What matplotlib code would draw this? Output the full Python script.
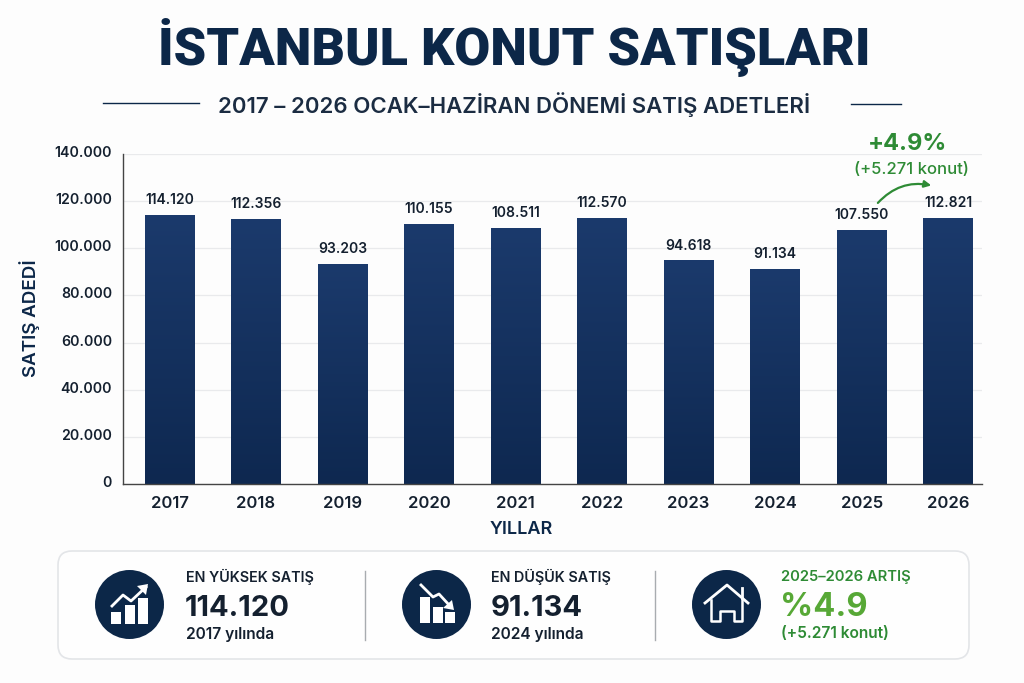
import numpy as np
import matplotlib
matplotlib.use('Agg')
import matplotlib.pyplot as plt
from matplotlib.patches import Circle, FancyBboxPatch, FancyArrowPatch, Polygon, Rectangle
from matplotlib.colors import LinearSegmentedColormap
from matplotlib.ticker import FuncFormatter
from matplotlib.transforms import ScaledTranslation

plt.rcParams['font.family'] = ['Inter', 'Liberation Sans', 'DejaVu Sans']

years = [2017, 2018, 2019, 2020, 2021, 2022, 2023, 2024, 2025, 2026]
sales = [114120, 112356, 93203, 110155, 108511, 112570, 94618, 91134, 107550, 112821]
y_ticks = [0, 20000, 40000, 60000, 80000, 100000, 120000, 140000]

NAVY = '#0c2748'
TEXT = '#14202f'
GREEN = '#2e8b35'
LIGHT_GREEN = '#57a836'
TITLE_FONT = ['Roboto', 'DejaVu Sans']


def dotted(v):
    return f'{int(v):,}'.replace(',', '.')


fig = plt.figure(figsize=(10.24, 6.83), dpi=100, facecolor='#fdfdfd')

# overlay in pixel coordinates, for title and bottom panel
bg = fig.add_axes([0, 0, 1, 1], zorder=3)
bg.set_xlim(0, 1024)
bg.set_ylim(683, 0)
bg.axis('off')

ax = fig.add_axes([123 / 1024, 1 - 484 / 683, 859 / 1024, 330 / 683], zorder=2)
ax.set_facecolor('none')
x = np.arange(len(years))
bars = ax.bar(x, sales, width=0.575, color='#15315f', zorder=2)

# bars get a slight vertical gradient
cmap = LinearSegmentedColormap.from_list('bar', ['#1b3a6c', '#0e2850'])
grad = np.linspace(0, 1, 256).reshape(-1, 1)
for b in bars:
    ax.imshow(grad, cmap=cmap, aspect='auto', zorder=2.1,
              extent=(b.get_x(), b.get_x() + b.get_width(), 0, b.get_height()))
ax.set_xlim(-0.537, 9.39)
ax.set_ylim(0, 140000)

for xi, v in zip(x, sales):
    ax.annotate(dotted(v), (xi, v), xytext=(0, 6), textcoords='offset points', ha='center', va='bottom',
                fontsize=10, fontweight='semibold', color=TEXT)

ax.set_xticks(x)
ax.set_xticklabels(years, fontsize=12, fontweight='semibold', color=TEXT)
ax.set_yticks(y_ticks)
ax.yaxis.set_major_formatter(FuncFormatter(lambda v, p: dotted(v)))
ax.tick_params(axis='y', labelsize=10.2, labelcolor=TEXT, length=0, pad=8)
shift = ScaledTranslation(0, 2.5 / 100, fig.dpi_scale_trans)
for lab in ax.get_yticklabels():
    lab.set_transform(lab.get_transform() + shift)
    lab.set_fontweight('semibold')
ax.tick_params(axis='x', length=0, pad=9)
ax.grid(axis='y', color='#e9eaec', linewidth=0.9, zorder=0)
ax.set_axisbelow(True)
for s in ['top', 'right']:
    ax.spines[s].set_visible(False)
for s in ['left', 'bottom']:
    ax.spines[s].set_color('#444444')
    ax.spines[s].set_linewidth(1.0)

bg.text(30, 318, 'SATIŞ ADEDİ', rotation=90, ha='center', va='center', fontsize=13.5, fontweight='semibold', color=NAVY)
bg.text(521, 530, 'YILLAR', ha='center', va='center', fontsize=13, fontweight='semibold', color=NAVY)

# title
bg.text(514, 65, 'İSTANBUL KONUT SATIŞLARI', ha='center', va='baseline', fontsize=37.5, fontweight='black',
        color=NAVY, family=TITLE_FONT)
bg.text(514, 105, '2017 – 2026 OCAK–HAZİRAN DÖNEMİ SATIŞ ADETLERİ', ha='center', va='center', fontsize=16,
        fontweight='semibold', color='#1b2c42')
bg.plot([103, 199], [103, 103], color=NAVY, lw=1)
bg.plot([851, 901], [104, 104], color=NAVY, lw=1)

# change note above the last bars
bg.text(908, 144, '+4.9%', ha='center', va='center', fontsize=17, fontweight='bold', color=GREEN)
bg.text(911, 170, '(+5.271 konut)', ha='center', va='center', fontsize=12, fontweight='medium', color=GREEN)
bg.add_patch(FancyArrowPatch((876, 205), (934, 186), connectionstyle='arc3,rad=-0.3', arrowstyle='-|>',
                             mutation_scale=10, lw=1.6, color=GREEN))

# bottom panel
bg.add_patch(FancyBboxPatch((58, 551), 911, 108, boxstyle='round,pad=0,rounding_size=14',
                            fc='#fefefe', ec='#e3e5e8', lw=1.2))
bg.plot([365, 365], [571, 640], color='#a8acb0', lw=1)
bg.plot([654.5, 654.5], [571, 640], color='#a8acb0', lw=1)

for cx in [129.5, 436.5, 726.5]:
    bg.add_patch(Circle((cx, 604.5), 34.5, fc=NAVY, ec='none'))

# rising bars icon
for rx, ry in [(111, 612), (125, 605), (138, 598)]:
    bg.add_patch(Rectangle((rx, ry), 10, 624 - ry, fc='white', ec='none'))
bg.plot([112, 123, 131, 146], [606, 595, 601, 587], color='white', lw=2)
bg.add_patch(Polygon([[148, 584], [137, 586], [146, 595]], fc='white', ec='none'))

# falling bars icon
for rx, ry in [(420, 597), (433, 607), (445, 612)]:
    bg.add_patch(Rectangle((rx, ry), 9.5, 623 - ry, fc='white', ec='none'))
bg.plot([421, 433, 439, 450], [585, 597, 594, 606], color='white', lw=2)
bg.add_patch(Polygon([[454, 610], [443, 608], [452, 600]], fc='white', ec='none'))

# house icon
bg.plot([705, 727, 748], [603, 585, 603], color='white', lw=2)
bg.plot([742, 742], [588, 598], color='white', lw=2)
bg.plot([711, 711, 720, 720, 734, 734, 742, 742], [600, 621, 621, 611, 611, 621, 621, 600], color='white', lw=1.8)

bg.text(186, 577, 'EN YÜKSEK SATIŞ', va='center', fontsize=10.3, fontweight='semibold', color=TEXT)
bg.text(185, 608, '114.120', va='center', fontsize=21, fontweight='bold', color=TEXT)
bg.text(186, 634, '2017 yılında', va='center', fontsize=11.2, fontweight='semibold', color=TEXT)
bg.text(491, 577, 'EN DÜŞÜK SATIŞ', va='center', fontsize=10.3, fontweight='semibold', color=TEXT)
bg.text(491, 608, '91.134', va='center', fontsize=21, fontweight='bold', color=TEXT)
bg.text(491, 634, '2024 yılında', va='center', fontsize=11.2, fontweight='semibold', color=TEXT)
bg.text(781, 577, '2025–2026 ARTIŞ', va='center', fontsize=10.6, fontweight='semibold', color=GREEN)
bg.text(780, 607, '%4.9', va='center', fontsize=23.5, fontweight='bold', color=LIGHT_GREEN)
bg.text(781, 634, '(+5.271 konut)', va='center', fontsize=11.2, fontweight='semibold', color=GREEN)

fig.savefig('out.png', dpi=100, facecolor=fig.get_facecolor())
